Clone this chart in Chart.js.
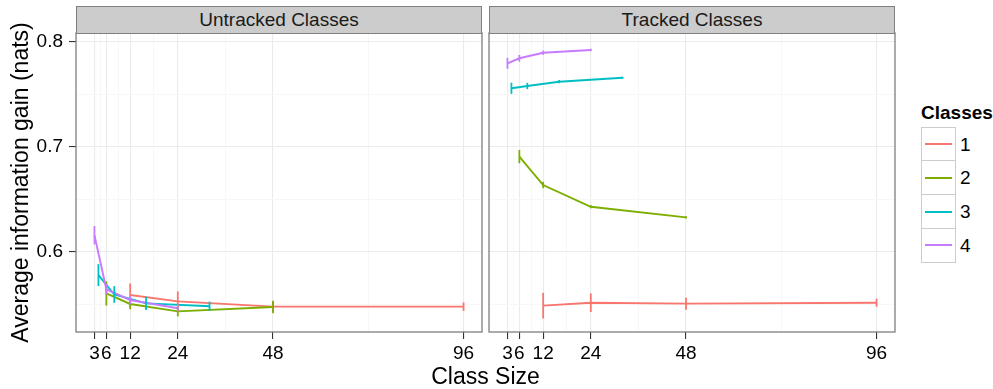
<!DOCTYPE html>
<html><head><meta charset="utf-8">
<script src="https://cdn.jsdelivr.net/npm/chart.js@4.4.1/dist/chart.umd.min.js"></script>
<style>
html,body{margin:0;padding:0;background:#fff;}
body{width:993px;height:389px;position:relative;overflow:hidden;font-family:"Liberation Sans",Arial,Helvetica,sans-serif;}
canvas{position:absolute;top:0;}
.strip{position:absolute;top:6px;height:28px;background:#cccccc;border:1.3px solid #7f7f7f;box-sizing:border-box;font-size:19px;color:#1a1a1a;text-align:center;line-height:25px;}
.xtitle{position:absolute;left:76px;width:819px;top:365px;text-align:center;font-size:23px;line-height:23px;color:#000;}
.ltitle{position:absolute;left:921px;top:103px;font-size:19px;line-height:19px;font-weight:bold;color:#000;}
.key{position:absolute;left:921px;width:35px;height:35px;box-sizing:border-box;border:1.3px solid #cccccc;background:#fff;}
.key i{position:absolute;left:3px;right:3px;top:50%;height:2px;margin-top:-1px;}
.klab{position:absolute;left:960px;font-size:19px;line-height:19px;color:#000;}
</style></head>
<body>
<canvas id="c1" width="486" height="389" style="left:0;width:486px;height:389px"></canvas>
<canvas id="c2" width="413" height="389" style="left:486px;width:413px;height:389px"></canvas>
<div class="strip" style="left:76px;width:406px">Untracked Classes</div>
<div class="strip" style="left:489px;width:406px">Tracked Classes</div>
<div class="xtitle">Class Size</div>
<div id="legend"></div>
<script>
// ---- data ----
const classes = ["1", "2", "3", "4"];
const colors = ["#F8766D", "#7CAE00", "#00BFC4", "#C77CFF"];
const panels = ["Untracked Classes", "Tracked Classes"];
const xMajor = [3, 6, 12, 24, 48, 96];
const xMinor = [4.5, 9, 18, 36, 72];
const yMajor = [0.6, 0.7, 0.8];
const yMinor = [0.55, 0.65, 0.75];

const sizes1 = [12, 24, 48, 96];
const sizes2 = [6, 12, 24, 48];
const sizes3 = [4, 8, 16, 32];
const sizes4 = [3, 6, 12, 24];

// Untracked
const untracked1 = [0.559, 0.553, 0.548, 0.548];
const untracked1Err = [0.011, 0.0095, 0.005, 0.004];
const untracked2 = [0.5605, 0.5505, 0.5435, 0.5476];
const untracked2Err = [0.0115, 0.005, 0.0048, 0.006];
const untracked3 = [0.578, 0.5595, 0.5511, 0.5483];
const untracked3Err = [0.0105, 0.008, 0.0063, 0.0044];
const untracked4 = [0.616, 0.5645, 0.5543, 0.5464];
const untracked4Err = [0.0087, 0.005, 0.004, 0.003];

// Tracked
const tracked1 = [0.5489, 0.5517, 0.5508, 0.5517];
const tracked1Err = [0.0122, 0.0089, 0.0057, 0.0038];
const tracked2 = [0.6908, 0.6638, 0.6431, 0.6330];
const tracked2Err = [0.0063, 0.003, 0.0015, 0.001];
const tracked3 = [0.7559, 0.7581, 0.7622, 0.766];
const tracked3Err = [0.0053, 0.003, 0.0015, 0.001];
const tracked4 = [0.7797, 0.7845, 0.7898, 0.7924];
const tracked4Err = [0.0052, 0.0032, 0.002, 0.0012];

const xMin = -1.65, xMax = 100.65;
const yMin = 0.52381, yMax = 0.80857;

const allSizes = [sizes1, sizes2, sizes3, sizes4];
const untrackedVals = [untracked1, untracked2, untracked3, untracked4];
const untrackedErrs = [untracked1Err, untracked2Err, untracked3Err, untracked4Err];
const trackedVals = [tracked1, tracked2, tracked3, tracked4];
const trackedErrs = [tracked1Err, tracked2Err, tracked3Err, tracked4Err];

// ---- legend (HTML) ----
(function(){
  const lg = document.getElementById('legend');
  let h = '<div class="ltitle">Classes</div>';
  classes.forEach((c, i) => {
    const top = 126.5 + i * 33.75;
    h += `<div class="key" style="top:${top}px"><i style="background:${colors[i]}"></i></div>`;
    h += `<div class="klab" style="top:${top + 8}px">${c}</div>`;
  });
  lg.innerHTML = h;
})();

const near = (v, arr) => arr.some(a => Math.abs(a - v) < 1e-9);

const errorBars = {
  id: 'errorBars',
  afterDatasetsDraw(chart) {
    const ctx = chart.ctx, xs = chart.scales.x, ys = chart.scales.y, a = chart.chartArea;
    ctx.save();
    ctx.beginPath(); ctx.rect(a.left, a.top, a.right - a.left, a.bottom - a.top); ctx.clip();
    chart.data.datasets.forEach(ds => {
      ctx.strokeStyle = ds.borderColor; ctx.lineWidth = 1.8;
      ds.data.forEach((p, i) => {
        const px = xs.getPixelForValue(p.x);
        ctx.beginPath();
        ctx.moveTo(px, ys.getPixelForValue(p.y - ds.errs[i]));
        ctx.lineTo(px, ys.getPixelForValue(p.y + ds.errs[i]));
        ctx.stroke();
      });
    });
    ctx.restore();
  }
};
const panelBorder = {
  id: 'panelBorder',
  afterDraw(chart) {
    const ctx = chart.ctx, a = chart.chartArea;
    ctx.save(); ctx.strokeStyle = '#7f7f7f'; ctx.lineWidth = 1.3;
    ctx.strokeRect(a.left, a.top, a.right - a.left, a.bottom - a.top);
    ctx.restore();
  }
};

function makePanel(id, vals, errs, showY, yWidth) {
  const datasets = classes.map((c, i) => ({
    label: c,
    data: allSizes[i].map((x, j) => ({x: x, y: vals[i][j]})),
    errs: errs[i],
    borderColor: colors[i],
    backgroundColor: colors[i],
    borderWidth: 1.9,
    pointRadius: 0,
    tension: 0,
    fill: false,
    order: 4 - i
  }));
  return new Chart(document.getElementById(id), {
    type: 'line',
    data: { datasets },
    plugins: [errorBars, panelBorder],
    options: {
      responsive: false, animation: false, devicePixelRatio: 1,
      layout: { padding: { top: 33, right: 4, left: 0, bottom: 0 } },
      plugins: { legend: { display: false }, tooltip: { enabled: false } },
      scales: {
        x: {
          type: 'linear', min: xMin, max: xMax,
          afterBuildTicks: s => { s.ticks = xMajor.concat(xMinor).sort((a,b)=>a-b).map(v => ({value: v})); },
          afterFit: s => { s.height = 57; },
          ticks: { autoSkip: false, maxRotation: 0, minRotation: 0, padding: 3,
            font: { size: 19, family: '"Liberation Sans", Arial, sans-serif' }, color: '#000',
            callback: v => near(v, xMajor) ? String(v) : '' },
          grid: {
            color: c => (c.tick && near(c.tick.value, xMajor)) ? '#ebebeb' : '#f7f7f7',
            tickColor: c => (c.tick && near(c.tick.value, xMajor)) ? '#333333' : 'rgba(0,0,0,0)',
            tickLength: 7, lineWidth: 1.1
          },
          border: { display: false }
        },
        y: {
          type: 'linear', min: yMin, max: yMax,
          afterBuildTicks: s => { s.ticks = yMajor.concat(yMinor).sort((a,b)=>a-b).map(v => ({value: v})); },
          afterFit: s => { s.width = yWidth; },
          ticks: { display: showY, padding: 6,
            font: { size: 19, family: '"Liberation Sans", Arial, sans-serif' }, color: '#000',
            callback: v => near(v, yMajor) ? v.toFixed(1) : '' },
          grid: {
            color: c => (c.tick && near(c.tick.value, yMajor)) ? '#ebebeb' : '#f7f7f7',
            tickColor: c => (showY && c.tick && near(c.tick.value, yMajor)) ? '#333333' : 'rgba(0,0,0,0)',
            tickLength: showY ? 7 : 0, drawTicks: showY, lineWidth: 1.1
          },
          border: { display: false },
          title: { display: showY, text: 'Average information gain (nats)', color: '#000',
            font: { size: 23, family: '"Liberation Sans", Arial, sans-serif' }, padding: { top: 8, bottom: 0 } }
        }
      }
    }
  });
}
makePanel('c1', untrackedVals, untrackedErrs, true, 76);
makePanel('c2', trackedVals, trackedErrs, false, 3);
</script>
</body></html>
